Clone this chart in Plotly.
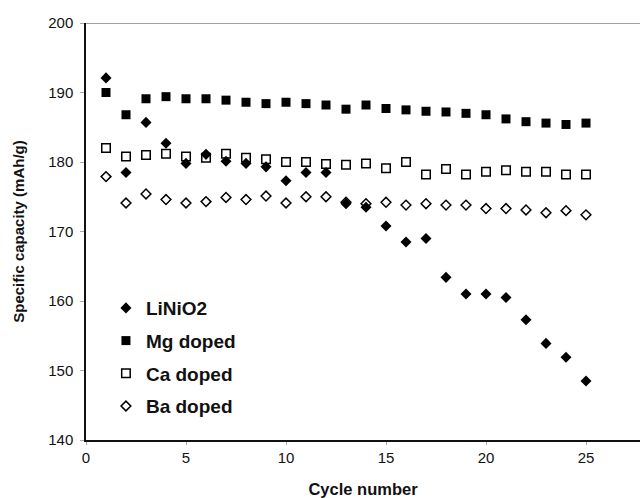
import plotly.graph_objects as go

cycles = list(range(1, 26))

linio2 = [192.1, 178.5, 185.7, 182.7, 179.8, 181.1, 180.1, 179.8, 179.3, 177.3,
          178.5, 178.5, 174.0, 173.5, 170.8, 168.5, 169.0, 163.4, 161.0, 161.0,
          160.5, 157.3, 153.9, 151.9, 148.5]
mg_doped = [190.0, 186.8, 189.1, 189.4, 189.1, 189.1, 188.9, 188.6, 188.4, 188.6,
            188.4, 188.2, 187.6, 188.2, 187.7, 187.5, 187.3, 187.2, 187.0, 186.8,
            186.2, 185.8, 185.6, 185.4, 185.6]
ca_doped = [182.0, 180.8, 181.0, 181.2, 180.8, 180.6, 181.2, 180.6, 180.4, 180.0,
            180.0, 179.7, 179.6, 179.8, 179.1, 180.0, 178.2, 179.0, 178.2, 178.6,
            178.8, 178.6, 178.6, 178.2, 178.2]
ba_doped = [177.9, 174.1, 175.4, 174.6, 174.1, 174.3, 174.9, 174.6, 175.1, 174.1,
            175.0, 175.0, 174.2, 174.0, 174.2, 173.8, 174.0, 173.8, 173.8, 173.3,
            173.3, 173.1, 172.7, 173.0, 172.4]

series_names = ["LiNiO2", "Mg doped", "Ca doped", "Ba doped"]
x_ticks = [0, 5, 10, 15, 20, 25]
y_ticks = [140, 150, 160, 170, 180, 190, 200]

FONT = "Liberation Sans, Arial, sans-serif"

fig = go.Figure()
fig.add_trace(go.Scatter(x=cycles, y=linio2, mode="markers", name=series_names[0],
                         legendgroup="a",
                         marker=dict(symbol="diamond", size=8.5, color="black")))
fig.add_trace(go.Scatter(x=cycles, y=mg_doped, mode="markers", name=series_names[1],
                         legendgroup="b",
                         marker=dict(symbol="square", size=9, color="black")))
fig.add_trace(go.Scatter(x=cycles, y=ca_doped, mode="markers", name=series_names[2],
                         legendgroup="c",
                         marker=dict(symbol="square-open", size=8.5, color="black",
                                     line=dict(width=1.5, color="black"))))
fig.add_trace(go.Scatter(x=cycles, y=ba_doped, mode="markers", name=series_names[3],
                         legendgroup="d",
                         marker=dict(symbol="diamond-open", size=7.5, color="black",
                                     line=dict(width=1.5, color="black"))))

fig.update_layout(
    width=640, height=498,
    margin=dict(l=86, r=0, t=23, b=58),
    paper_bgcolor="white", plot_bgcolor="white",
    font=dict(family=FONT, color="#111", size=15),
    showlegend=True,
    legend=dict(x=0.036, y=0.362, xanchor="left", yanchor="top",
                bgcolor="rgba(0,0,0,0)", borderwidth=0,
                font=dict(family=FONT, size=19, color="#111", weight="bold"),
                tracegroupgap=5, itemwidth=30),
    xaxis=dict(range=[0, 27.7], tickvals=x_ticks, showgrid=False, zeroline=False,
               showline=True, linecolor="#111", linewidth=1.5,
               ticks="outside", ticklen=3, tickcolor="#aaa",
               tickfont=dict(family=FONT, size=15, color="#111"),
               title=dict(text="Cycle number", standoff=20,
                          font=dict(family=FONT, size=16.5, color="#111", weight="bold"))),
    yaxis=dict(range=[140, 200], tickvals=y_ticks, showgrid=False, zeroline=False,
               showline=True, linecolor="#111", linewidth=1.5,
               ticks="outside", ticklen=4, tickcolor="#aaa",
               ticklabelstandoff=4,
               tickfont=dict(family=FONT, size=15, color="#111"),
               title=dict(text="Specific capacity (mAh/g)", standoff=20,
                          font=dict(family=FONT, size=15, color="#111", weight="bold"))),
    shapes=[dict(type="line", xref="paper", yref="y", x0=0, x1=1, y0=200, y1=200,
                 line=dict(color="#444", width=1.2))],
)

fig.write_html("out.html")
